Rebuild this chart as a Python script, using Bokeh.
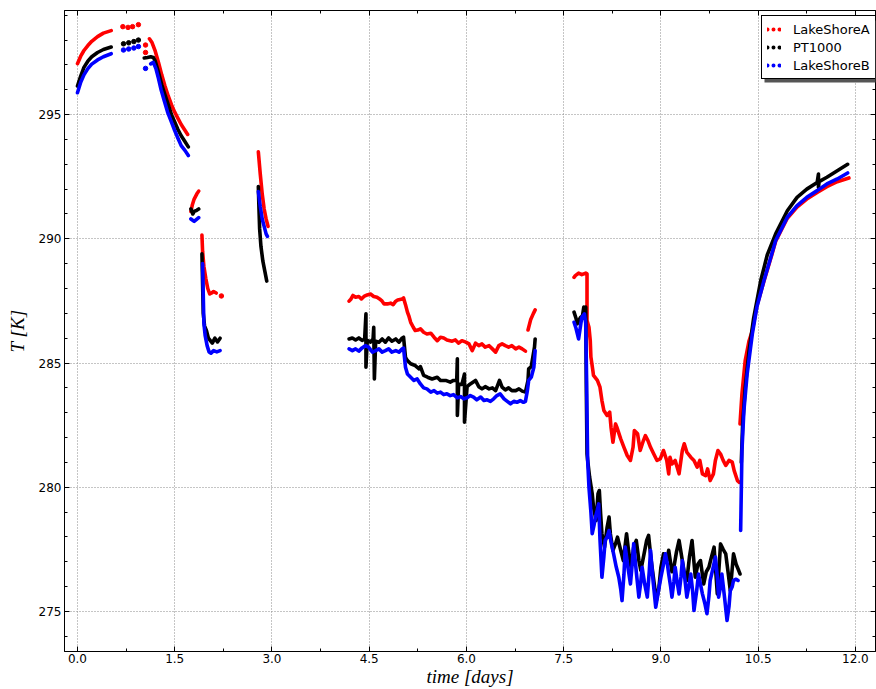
from bokeh.plotting import figure
from bokeh.models import (Range1d, FixedTicker, NumeralTickFormatter, LinearAxis, Legend, LegendItem,
                          CustomJSTickFormatter, BoxAnnotation)
from bokeh.embed import file_html
from bokeh.resources import INLINE

nan = float("nan")

# ---------------- data ----------------
series_names = ["LakeShoreA", "PT1000", "LakeShoreB"]

x_ticks = [0.0, 1.5, 3.0, 4.5, 6.0, 7.5, 9.0, 10.5, 12.0]
x_minor = [-0.75, 0.75, 2.25, 3.75, 5.25, 6.75, 8.25, 9.75, 11.25, 12.75]
y_ticks = [275, 280, 285, 290, 295]
y_minor = [273, 274, 276, 277, 278, 279, 281, 282, 283, 284, 286, 287, 288, 289,
           291, 292, 293, 294, 296, 297, 298, 299]

# LakeShoreA (red)
a1_day = [0.00, 0.05, 0.10, 0.16, 0.22, 0.31, 0.40, 0.52]
a1_temp = [297.05, 297.35, 297.58, 297.78, 297.95, 298.14, 298.28, 298.38]
a3_day = [1.11, 1.15, 1.20, 1.25, 1.30, 1.35, 1.40, 1.45, 1.50, 1.55, 1.60, 1.65, 1.70]
a3_temp = [298.05, 297.9, 297.55, 297.1, 296.6, 296.15, 295.75, 295.4, 295.1, 294.85, 294.6, 294.4, 294.2]
a4_day = [1.75, 1.77, 1.80, 1.84, 1.87]
a4_temp = [291.1, 291.35, 291.6, 291.8, 291.92]
a5_day = [1.92, 1.93, 1.95, 1.98, 2.01, 2.04, 2.07, 2.10, 2.14]
a5_temp = [290.15, 289.5, 288.9, 288.4, 288.0, 287.78, 287.82, 287.88, 287.82]
a6_day = [2.79, 2.82, 2.85, 2.88, 2.91, 2.94]
a6_temp = [293.5, 292.6, 291.8, 291.2, 290.8, 290.5]
a7_day = [4.19, 4.22, 4.25, 4.29, 4.34, 4.38, 4.42, 4.47, 4.52, 4.57, 4.62, 4.66, 4.70, 4.73, 4.78,
          4.83, 4.87, 4.91, 4.94, 5.01, 5.03,
          5.06, 5.09, 5.11, 5.14, 5.18, 5.21, 5.25, 5.29, 5.34, 5.39,
          5.45, 5.50, 5.55, 5.60, 5.65, 5.70, 5.78, 5.83, 5.88, 5.93,
          5.99, 6.04, 6.09, 6.14, 6.19, 6.24, 6.29, 6.35, 6.40, 6.45,
          6.50, 6.55, 6.60, 6.65, 6.70, 6.76, 6.81, 6.86, 6.91]
a7_temp = [287.49, 287.58, 287.72, 287.65, 287.68, 287.58, 287.68, 287.74, 287.78, 287.68, 287.65,
           287.58, 287.49, 287.38, 287.38, 287.41, 287.35, 287.49, 287.54, 287.58, 287.62,
           287.35, 287.05, 286.91, 286.64, 286.44, 286.31, 286.33, 286.38, 286.24, 286.17,
           286.2, 286.04, 285.9, 286.04, 286.01, 285.93, 285.88, 285.93, 285.8, 285.9,
           285.84, 285.77, 285.5, 285.8, 285.7, 285.77, 285.64, 285.7, 285.57, 285.44,
           285.7, 285.77, 285.7, 285.64, 285.7, 285.57, 285.64, 285.57, 285.48]
a7b_day = [6.95, 6.99, 7.03, 7.06]
a7b_temp = [286.33, 286.74, 286.98, 287.14]
a8_day = [7.66, 7.68, 7.73, 7.78, 7.84, 7.86, 7.86, 7.89, 7.91, 7.92,
          7.95, 7.96, 8.02, 8.06, 8.09, 8.12, 8.17, 8.21, 8.23, 8.26,
          8.30, 8.32, 8.38, 8.43, 8.48, 8.53, 8.57, 8.59, 8.64, 8.68,
          8.73, 8.76, 8.80, 8.84, 8.89, 8.94, 8.99, 9.04, 9.09, 9.12,
          9.14, 9.17, 9.22, 9.28, 9.33, 9.36, 9.40, 9.46, 9.51, 9.56,
          9.60, 9.64, 9.69, 9.72, 9.76, 9.81, 9.84, 9.88, 9.92, 9.96,
          10.0, 10.05, 10.10, 10.13, 10.18, 10.21]
a8_temp = [288.45, 288.52, 288.62, 288.56, 288.62, 288.59, 286.71, 286.44, 285.9, 285.24,
           284.7, 284.5, 284.3, 284.03, 283.49, 283.09, 282.89, 283.02, 282.42, 281.81,
           282.55, 282.42, 281.95, 281.61, 281.28, 281.08, 281.61, 282.28, 282.15, 281.48,
           281.88, 282.08, 281.88, 281.61, 281.34, 281.08, 281.14, 281.48, 281.08, 280.54,
           281.21, 280.94, 281.08, 280.54, 281.48, 281.75, 281.41, 281.21, 281.08, 280.81,
           281.08, 280.54, 280.47, 280.74, 280.27, 280.54, 281.08, 281.48, 281.34, 281.08,
           280.88, 281.08, 281.01, 280.67, 280.27, 280.2]
a9_day = [10.22, 10.25, 10.30, 10.36, 10.41, 10.48, 10.59, 10.71, 10.77, 10.95, 11.10, 11.25,
          11.41, 11.56, 11.72, 11.90]
a9_temp = [282.55, 283.76, 285.1, 285.9, 286.3, 287.3, 288.3, 289.35, 289.9, 290.83, 291.28, 291.6,
           291.87, 292.1, 292.3, 292.45]
a_dot_day = [0.70, 0.78, 0.85, 0.94, 1.05, 1.05, 2.22]
a_dot_temp = [298.54, 298.51, 298.54, 298.62, 297.8, 297.5, 287.7]

# PT1000 (black)
p1_day = [0.00, 0.05, 0.10, 0.16, 0.22, 0.31, 0.40, 0.52]
p1_temp = [296.15, 296.55, 296.9, 297.15, 297.33, 297.5, 297.62, 297.72]
p3_day = [1.03, 1.08, 1.13, 1.17, 1.20, 1.25, 1.30, 1.35, 1.40, 1.45, 1.50, 1.55, 1.60, 1.65, 1.71]
p3_temp = [297.28, 297.3, 297.33, 297.3, 297.15, 296.7, 296.2, 295.8, 295.4, 295.0, 294.7, 294.4,
           294.15, 293.95, 293.7]
p4_day = [1.75, 1.78, 1.80, 1.84, 1.87]
p4_temp = [291.2, 291.0, 291.1, 291.15, 291.2]
p5_day = [1.92, 1.93, 1.94, 1.96, 1.99, 2.02, 2.05, 2.08, 2.12, 2.16, 2.20]
p5_temp = [289.4, 288.2, 287.0, 286.5, 286.3, 286.0, 285.9, 285.8, 286.0, 285.85, 286.0]
p6_day = [2.79, 2.80, 2.81, 2.83, 2.86, 2.89, 2.92]
p6_temp = [292.1, 291.2, 290.4, 289.7, 289.1, 288.7, 288.3]
p7_day = [4.19, 4.24, 4.29, 4.34, 4.39, 4.43, 4.45, 4.45, 4.47, 4.52,
          4.56, 4.57, 4.58, 4.60, 4.65, 4.70, 4.75, 4.80, 4.85, 4.91,
          4.96, 5.01, 5.03,
          5.06, 5.09, 5.14, 5.21, 5.27, 5.29, 5.34, 5.40, 5.47, 5.55,
          5.60, 5.68, 5.75, 5.80, 5.85, 5.86, 5.86, 5.88, 5.93, 5.97,
          5.97, 6.01, 6.06, 6.14, 6.19, 6.24, 6.29, 6.35, 6.40, 6.45,
          6.51, 6.55, 6.60, 6.65, 6.70, 6.76, 6.81, 6.86, 6.91, 6.95,
          6.96, 7.0, 7.05, 7.06]
p7_temp = [285.97, 286.01, 285.93, 286.01, 285.91, 285.97, 286.98, 284.83, 285.91, 285.84,
           285.97, 286.44, 284.36, 285.88, 285.84, 285.97, 285.84, 286.01, 285.88, 285.97,
           285.84, 286.01, 286.04,
           285.23, 285.1, 284.97, 284.9, 284.77, 284.86, 284.5, 284.43, 284.36, 284.43,
           284.3, 284.3, 284.23, 284.3, 284.3, 285.17, 282.89, 284.16, 284.14, 284.56,
           282.62, 284.05, 284.16, 284.3, 284.05, 283.96, 284.05, 283.96, 284.0, 283.89,
           284.3, 284.03, 283.92, 284.0, 283.89, 283.89, 283.96, 283.87, 283.83, 284.3,
           284.77, 284.86, 285.64, 285.97]
p8_day = [7.66, 7.69, 7.71, 7.74, 7.76, 7.79, 7.81, 7.83, 7.84, 7.85,
          7.86, 7.87, 7.90, 7.94, 7.96, 8.0, 8.03, 8.05, 8.07, 8.09,
          8.13, 8.17, 8.20, 8.22, 8.26, 8.30, 8.33, 8.38, 8.42, 8.47,
          8.50, 8.54, 8.58, 8.62, 8.66, 8.69, 8.74, 8.78, 8.81, 8.85,
          8.89, 8.93, 8.97, 9.0, 9.04, 9.09, 9.12,
          9.17, 9.20, 9.24, 9.28, 9.33, 9.37, 9.40, 9.44, 9.48, 9.53,
          9.57, 9.61, 9.66, 9.70, 9.74, 9.78, 9.82, 9.87, 9.92, 9.96,
          10.0, 10.04, 10.07, 10.12, 10.16, 10.20, 10.22]
p8_temp = [287.05, 286.8, 286.58, 286.75, 286.84, 286.9, 287.25, 286.9, 287.25, 283.76,
           281.35, 281.08, 280.41, 279.74, 279.2, 278.66, 279.74, 279.87, 278.93, 278.13,
           277.59, 278.39, 278.8, 278.13, 277.46, 277.73, 277.99, 277.46, 277.05, 278.13,
           277.46, 276.78, 277.59, 277.86, 277.05, 276.65, 277.32, 277.86, 278.06, 277.05,
           276.25, 275.44, 275.98, 276.78, 277.32, 277.05, 277.46,
           276.6, 276.78, 277.4, 277.86, 277.05, 276.4, 276.25, 277.2, 277.86, 276.38,
           276.9, 277.05, 276.11, 276.6, 276.78, 277.2, 277.59, 275.71, 277.72, 277.5,
           277.32, 276.5, 275.84, 277.32, 276.9, 276.65, 276.51]
p9_day = [10.24, 10.26, 10.30, 10.36, 10.43, 10.54, 10.64, 10.77, 10.95, 11.10, 11.25, 11.41,
          11.43, 11.43, 11.44, 11.56, 11.72, 11.88]
p9_temp = [281.0, 282.5, 284.0, 285.5, 286.8, 288.32, 289.35, 290.2, 291.13, 291.67, 292.0, 292.27,
           292.61, 292.07, 292.3, 292.48, 292.74, 293.0]
p_dot_day = [0.71, 0.79, 0.87, 0.94]
p_dot_temp = [297.85, 297.89, 297.94, 298.0]

# LakeShoreB (blue)
b1_day = [0.00, 0.05, 0.10, 0.16, 0.22, 0.31, 0.40, 0.52]
b1_temp = [295.88, 296.3, 296.6, 296.85, 297.03, 297.2, 297.33, 297.45]
b3_day = [1.13, 1.17, 1.21, 1.25, 1.29, 1.34, 1.39, 1.45, 1.50, 1.55, 1.60, 1.66, 1.71]
b3_temp = [297.04, 297.1, 296.85, 296.45, 296.0, 295.55, 295.1, 294.7, 294.36, 294.05, 293.75,
           293.55, 293.35]
b4_day = [1.75, 1.80, 1.87]
b4_temp = [290.8, 290.7, 290.85]
b5_day = [1.93, 1.94, 1.95, 1.97, 2.0, 2.03, 2.06, 2.10, 2.15, 2.20]
b5_temp = [289.0, 287.8, 286.6, 286.1, 285.7, 285.45, 285.4, 285.5, 285.45, 285.5]
b6_day = [2.79, 2.82, 2.85, 2.88, 2.91, 2.93]
b6_temp = [291.9, 291.3, 290.8, 290.5, 290.2, 290.1]
b7_day = [4.19, 4.24, 4.29, 4.34, 4.39, 4.44, 4.49, 4.55, 4.60, 4.65,
          4.70, 4.75, 4.80, 4.85, 4.91, 4.96, 5.01, 5.03,
          5.06, 5.09, 5.14, 5.19, 5.24, 5.29, 5.34, 5.39, 5.45, 5.50,
          5.55, 5.60, 5.65, 5.70, 5.75, 5.80, 5.86, 5.91, 5.96, 6.01,
          6.06, 6.11, 6.16, 6.22, 6.27, 6.32, 6.37, 6.42, 6.47, 6.52,
          6.58, 6.63, 6.68, 6.73, 6.78, 6.83, 6.88, 6.91, 6.94, 6.96,
          7.0, 7.04, 7.06]
b7_temp = [285.57, 285.5, 285.57, 285.48, 285.61, 285.7, 285.64, 285.44, 285.5, 285.57,
           285.44, 285.5, 285.57, 285.44, 285.5, 285.44, 285.57, 285.6,
           284.83, 284.56, 284.43, 284.3, 284.36, 284.16, 284.0, 283.96, 283.83, 283.89,
           283.79, 283.83, 283.73, 283.76, 283.69, 283.73, 283.6, 283.65, 283.56, 283.6,
           283.69, 283.63, 283.52, 283.63, 283.49, 283.52, 283.46, 283.56, 283.69, 283.76,
           283.56, 283.46, 283.36, 283.46, 283.42, 283.49, 283.42, 283.46, 283.89, 284.3,
           284.43, 284.83, 285.5]
b8_day = [7.66, 7.69, 7.73, 7.76, 7.78, 7.82, 7.84, 7.85, 7.86, 7.87,
          7.89, 7.92, 7.94, 7.97, 7.99, 8.02, 8.04, 8.06, 8.09, 8.12,
          8.14, 8.17, 8.20, 8.23, 8.27, 8.31, 8.35, 8.38, 8.40, 8.43,
          8.45, 8.49, 8.53, 8.56, 8.58, 8.62, 8.66, 8.69, 8.71, 8.75,
          8.79, 8.82, 8.84, 8.88, 8.92, 8.96, 9.0, 9.04, 9.07, 9.10,
          9.12,
          9.15, 9.17, 9.20, 9.22, 9.25, 9.28, 9.31, 9.33, 9.37, 9.40,
          9.43, 9.46, 9.49, 9.51, 9.55, 9.58, 9.61, 9.64, 9.68, 9.71,
          9.74, 9.76, 9.80, 9.84, 9.87, 9.89, 9.92, 9.94, 9.98, 10.02,
          10.05, 10.07, 10.10, 10.12, 10.16, 10.19]
b8_temp = [286.64, 286.4, 285.97, 286.5, 286.84, 286.98, 286.6, 284.97, 282.95, 281.08,
           280.0, 279.0, 278.13, 278.5, 278.8, 279.1, 279.33, 277.9, 276.38, 277.2,
           277.86, 278.0, 278.26, 277.8, 277.32, 276.8, 276.38, 275.9, 275.44, 276.5,
           277.59, 276.8, 276.11, 277.0, 277.73, 276.6, 275.58, 276.2, 276.78, 276.1,
           275.58, 276.6, 277.46, 276.2, 275.17, 275.8, 276.38, 276.9, 277.32, 276.9,
           276.51,
           276.0, 275.58, 276.2, 276.78, 276.2, 275.71, 276.4, 277.05, 276.3, 275.58,
           276.0, 276.51, 275.8, 275.04, 275.8, 276.51, 276.1, 275.71, 275.3, 274.91,
           275.6, 276.25, 276.7, 277.19, 276.4, 275.58, 276.0, 276.51, 275.6, 274.64,
           275.2, 275.84, 276.0, 276.25, 276.3, 276.25]
b9_day = [10.23, 10.25, 10.28, 10.33, 10.41, 10.48, 10.59, 10.71, 10.77, 10.95, 11.10, 11.25,
          11.41, 11.56, 11.72, 11.88]
b9_temp = [278.26, 281.48, 283.09, 284.56, 286.17, 287.25, 288.32, 289.39, 289.93, 290.87, 291.34,
           291.67, 291.94, 292.21, 292.41, 292.65]
b_dot_day = [0.71, 0.79, 0.87, 0.94, 1.05]
b_dot_temp = [297.6, 297.64, 297.68, 297.74, 296.86]


def join(segments):
    xs, ys = [], []
    for sx, sy in segments:
        assert len(sx) == len(sy), (len(sx), len(sy))
        if xs:
            xs.append(nan)
            ys.append(nan)
        xs.extend(sx)
        ys.extend(sy)
    return xs, ys


a_day, a_temp = join([(a1_day, a1_temp), (a3_day, a3_temp), (a4_day, a4_temp), (a5_day, a5_temp),
                      (a6_day, a6_temp), (a7_day, a7_temp), (a7b_day, a7b_temp), (a8_day, a8_temp),
                      (a9_day, a9_temp)])
p_day, p_temp = join([(p1_day, p1_temp), (p3_day, p3_temp), (p4_day, p4_temp), (p5_day, p5_temp),
                      (p6_day, p6_temp), (p7_day, p7_temp), (p8_day, p8_temp), (p9_day, p9_temp)])
b_day, b_temp = join([(b1_day, b1_temp), (b3_day, b3_temp), (b4_day, b4_temp), (b5_day, b5_temp),
                      (b6_day, b6_temp), (b7_day, b7_temp), (b8_day, b8_temp), (b9_day, b9_temp)])

# ---------------- figure ----------------
p = figure(width=876, height=689, output_backend="svg", toolbar_location=None,
           x_range=Range1d(-0.2, 12.31), y_range=Range1d(273.39, 299.19),
           min_border_left=64, min_border_right=1, min_border_top=10, min_border_bottom=37)
p.background_fill_color = "white"
p.border_fill_color = "white"
p.outline_line_color = "black"
p.outline_line_width = 1

bottom = p.below[0]
left = p.left[0]

colors = ["#ff0000", "#000000", "#0000ff"]
lw = 3.6
p.line(a_day, a_temp, line_color=colors[0], line_width=lw, line_join="round", line_cap="round")
p.scatter(a_dot_day, a_dot_temp, size=4.5, fill_color=colors[0], line_color=colors[0])
p.line(p_day, p_temp, line_color=colors[1], line_width=lw, line_join="round", line_cap="round")
p.scatter(p_dot_day, p_dot_temp, size=4.5, fill_color=colors[1], line_color=colors[1])
p.line(b_day, b_temp, line_color=colors[2], line_width=lw, line_join="round", line_cap="round")
p.scatter(b_dot_day, b_dot_temp, size=4.5, fill_color=colors[2], line_color=colors[2])

# legend proxies (three dots, as in matplotlib scatter legends)
proxies = []
for c in colors:
    proxies.append(p.line([nan], [nan], line_color=c, line_width=4, line_dash="0 6", line_cap="round"))

# legend placement in screen units (from the frame's bottom-left corner)
leg_x, leg_bottom, leg_h, leg_w = 697, 572, 62, 116

shadow = BoxAnnotation(left=leg_x + 3, right=leg_x + leg_w + 3, bottom=leg_bottom - 3,
                       top=leg_bottom + leg_h - 3,
                       left_units="screen", right_units="screen", bottom_units="screen",
                       top_units="screen", fill_color="#555555", fill_alpha=1.0,
                       line_color=None, level="overlay")
p.add_layout(shadow)

legend = Legend(items=[LegendItem(label=n, renderers=[r]) for n, r in zip(series_names, proxies)],
                location=(leg_x, leg_bottom), padding=5, spacing=2,
                label_height=16, glyph_height=16, glyph_width=14, label_standoff=12,
                label_text_font="DejaVu Sans", label_text_font_size="13px", label_text_color="black",
                border_line_color="black", border_line_width=1, border_line_alpha=1,
                background_fill_color="white", background_fill_alpha=1)
p.add_layout(legend)

# axes
xt = FixedTicker(ticks=x_ticks, minor_ticks=x_minor)
yt = FixedTicker(ticks=y_ticks, minor_ticks=y_minor)
bottom.ticker = xt
left.ticker = yt
bottom.formatter = NumeralTickFormatter(format="0.0")
left.formatter = NumeralTickFormatter(format="0")

blank = CustomJSTickFormatter(code="return ''")
top = LinearAxis(ticker=xt, formatter=blank, major_label_text_font_size="1px", major_label_standoff=0)
right = LinearAxis(ticker=yt, formatter=blank, major_label_text_font_size="1px", major_label_standoff=0)
p.add_layout(top, "above")
p.add_layout(right, "right")

for ax in [bottom, left, top, right]:
    ax.major_tick_in = 5
    ax.major_tick_out = 0
    ax.minor_tick_in = 3
    ax.minor_tick_out = 0
    ax.axis_line_color = "black"
    ax.major_tick_line_color = "black"
    ax.minor_tick_line_color = "black"

for ax in [bottom, left]:
    ax.major_label_text_font = "DejaVu Sans"
    ax.major_label_text_font_size = "12px"
    ax.major_label_text_color = "black"
    ax.major_label_standoff = 2
    ax.axis_label_text_font = "Liberation Serif"
    ax.axis_label_text_font_style = "italic"
    ax.axis_label_text_font_size = "19px"
    ax.axis_label_text_color = "black"
    ax.axis_label_standoff = 0

bottom.axis_label = "time [days]"
left.axis_label = "T [K]"
left.major_label_standoff = 3
left.axis_label_standoff = 8

p.xgrid.ticker = xt
p.ygrid.ticker = yt
for g in [p.xgrid[0], p.ygrid[0]]:
    g.grid_line_color = "#8a8a8a"
    g.grid_line_dash = "1 2"
    g.grid_line_width = 1

open("out.html", "w").write(file_html(p, INLINE))
